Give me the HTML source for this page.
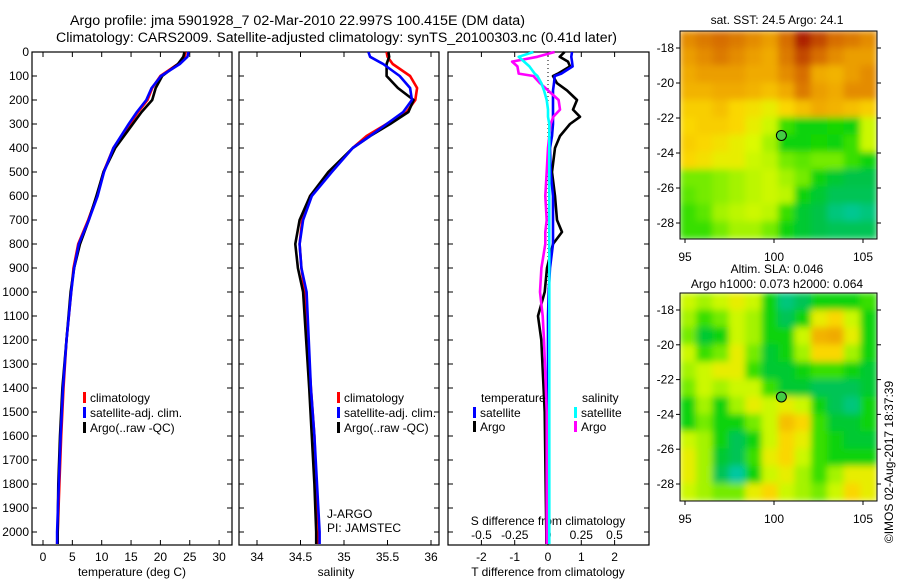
<!DOCTYPE html>
<html><head><meta charset="utf-8"><style>
body{margin:0;background:#fff;}
svg{display:block;font-family:"Liberation Sans",sans-serif;font-size:12px;}
</style></head><body>
<svg id="c" width="900" height="580" xmlns="http://www.w3.org/2000/svg">
<defs><filter id="bl" x="0" y="0" width="1" height="1"><feGaussianBlur stdDeviation="3.5" edgeMode="duplicate"/></filter>
<clipPath id="cm1"><rect x="680" y="31" width="197" height="208"/></clipPath>
<clipPath id="cm2"><rect x="680" y="293" width="197" height="208"/></clipPath></defs>
<text x="70" y="25" textLength="455" lengthAdjust="spacingAndGlyphs" style="font-size:13.5px">Argo profile: jma 5901928_7 02-Mar-2010 22.997S 100.415E (DM data)</text>
<text x="56" y="42" textLength="561" lengthAdjust="spacingAndGlyphs" style="font-size:13.5px">Climatology: CARS2009. Satellite-adjusted climatology: synTS_20100303.nc (0.41d later)</text>
<text x="777" y="24" text-anchor="middle">sat. SST: 24.5 Argo: 24.1</text>
<text x="777" y="273" text-anchor="middle">Altim. SLA: 0.046</text>
<text x="777" y="288" text-anchor="middle">Argo h1000: 0.073 h2000: 0.064</text>
<text transform="translate(893,462) rotate(-90)" text-anchor="middle">©IMOS 02-Aug-2017 18:37:39</text>
<g id="g"></g>
</svg>
<script>
const depths=[0,20,50,100,150,200,250,300,400,500,600,700,800,900,1000,1200,1400,1600,1800,2000,2050];
const tempClim=[24.3,24.1,23,20,18.6,17.8,16.2,14.8,12,10.3,9.2,7.7,6.0,5.2,4.8,4.0,3.5,3.1,2.8,2.5,2.4];
const tempSat=[24.8,24.6,23.3,20.1,18.5,17.6,16,14.6,12,10.4,9.3,7.8,6.1,5.3,4.8,4.0,3.4,3.0,2.7,2.4,2.4];
const tempArgo=[24.1,23.9,23,20.3,19.2,18.6,16.8,15.3,12.3,10.3,9.1,7.8,6.3,5.3,4.7,4.0,3.3,2.9,2.6,2.5,2.5];
const salDepths=[0,20,50,100,150,200,250,300,350,400,500,600,700,800,900,1000,1400,1600,1800,2000,2050];
const salClim=[35.49,35.5,35.56,35.76,35.84,35.82,35.72,35.49,35.26,35.1,34.84,34.61,34.52,34.49,34.51,34.55,34.62,34.66,34.68,34.71,34.71];
const salSat=[35.28,35.3,35.45,35.64,35.76,35.78,35.68,35.49,35.3,35.1,34.86,34.63,34.53,34.49,34.51,34.57,34.62,34.66,34.69,34.72,34.72];
const salArgo=[35.51,35.52,35.49,35.49,35.62,35.8,35.74,35.53,35.3,35.1,34.82,34.61,34.49,34.44,34.47,34.53,34.6,34.63,34.66,34.68,34.68];
const diffDepths=[0,20,40,60,90,100,130,160,200,240,270,300,350,400,500,600,700,750,800,900,1000,1100,1200,1500,2000,2050];
const tDiffSat=[0.72,0.7,0.72,0.74,0.4,0.2,0.18,0.15,0.15,0.15,0.15,0.15,0.12,0.06,0.08,0.15,0.15,0.15,0.15,0.06,0.02,0,0,0,0,0];
const tDiffArgo=[0.5,0.35,0.6,0.66,0.3,0.15,0.27,0.57,0.87,0.75,0.96,0.66,0.36,0.21,0.12,0.21,0.27,0.42,0.15,-0.03,-0.1,-0.3,-0.2,-0.1,-0.05,-0.05];
const sDiffSat=[-0.11,-0.22,-0.18,-0.14,-0.1,-0.08,-0.05,-0.03,-0.01,0,0,0.01,0.01,0.01,0.01,0.01,0.01,0.01,0.01,0.01,0.01,0.01,0.01,0.01,0.01,0.01];
const sDiffArgo=[0.05,-0.08,-0.27,-0.23,-0.22,-0.11,-0.06,0,0.08,0.09,0.04,0.02,0.01,0,-0.01,-0.02,-0.01,-0.02,-0.02,-0.05,-0.06,-0.04,-0.03,-0.01,-0.01,-0.01];
const depthTicks=[0,100,200,300,400,500,600,700,800,900,1000,1100,1200,1300,1400,1500,1600,1700,1800,1900,2000];
const tempTicks=[0,5,10,15,20,25,30];
const salTicks=[34,34.5,35,35.5,36];
const tDiffTicks=[-2,-1,0,1,2];
const sDiffTicks=[-0.5,-0.25,0,0.25,0.5];
const lonTicks=[95,100,105];
const latTicks=[-18,-20,-22,-24,-26,-28];
const sstGrid=[
[0.75,0.78,0.8,0.78,0.75,0.72,0.8,0.9,0.85,0.8,0.78,0.75],
[0.72,0.75,0.78,0.75,0.72,0.7,0.78,0.85,0.8,0.75,0.72,0.72],
[0.7,0.72,0.72,0.72,0.7,0.7,0.75,0.8,0.7,0.68,0.72,0.75],
[0.68,0.68,0.7,0.7,0.68,0.65,0.7,0.78,0.72,0.7,0.75,0.75],
[0.62,0.62,0.65,0.6,0.58,0.55,0.6,0.65,0.7,0.68,0.65,0.62],
[0.6,0.62,0.62,0.6,0.55,0.5,0.35,0.3,0.3,0.32,0.3,0.5],
[0.62,0.6,0.58,0.55,0.52,0.45,0.3,0.3,0.32,0.3,0.35,0.5],
[0.6,0.58,0.55,0.55,0.5,0.48,0.4,0.38,0.4,0.4,0.35,0.3],
[0.4,0.4,0.42,0.45,0.48,0.5,0.45,0.4,0.3,0.25,0.22,0.22],
[0.38,0.4,0.42,0.45,0.48,0.5,0.48,0.3,0.25,0.2,0.2,0.2],
[0.35,0.38,0.45,0.48,0.5,0.48,0.35,0.25,0.22,0.15,0.12,0.15],
[0.35,0.35,0.4,0.45,0.45,0.4,0.3,0.25,0.22,0.2,0.2,0.2]];
const slaGrid=[
[0.5,0.45,0.5,0.55,0.5,0.3,0.15,0.2,0.3,0.3,0.3,0.35],
[0.45,0.35,0.4,0.5,0.45,0.3,0.2,0.3,0.55,0.6,0.5,0.3],
[0.4,0.25,0.3,0.5,0.45,0.3,0.3,0.5,0.68,0.7,0.55,0.3],
[0.5,0.35,0.4,0.55,0.4,0.25,0.3,0.45,0.6,0.6,0.45,0.3],
[0.45,0.5,0.55,0.55,0.35,0.25,0.25,0.3,0.35,0.35,0.3,0.25],
[0.4,0.5,0.45,0.5,0.5,0.35,0.25,0.25,0.2,0.2,0.2,0.25],
[0.3,0.45,0.3,0.45,0.55,0.5,0.55,0.5,0.3,0.2,0.15,0.3],
[0.3,0.4,0.3,0.3,0.4,0.5,0.65,0.6,0.35,0.25,0.25,0.3],
[0.5,0.45,0.3,0.2,0.3,0.5,0.6,0.55,0.35,0.3,0.25,0.25],
[0.55,0.45,0.25,0.2,0.35,0.55,0.6,0.5,0.35,0.3,0.3,0.3],
[0.55,0.45,0.2,0.1,0.3,0.5,0.55,0.45,0.35,0.45,0.55,0.55],
[0.5,0.45,0.4,0.4,0.55,0.6,0.5,0.45,0.4,0.5,0.6,0.55]];
const argoLon=100.415, argoLat=-22.997;

const NS="http://www.w3.org/2000/svg";
const G=document.getElementById('g');
function el(t,a,p){const e=document.createElementNS(NS,t);for(const k in a)e.setAttribute(k,a[k]);(p||G).appendChild(e);return e;}
function txt(x,y,s,anc,p){const e=el('text',{x:x,y:y,'text-anchor':anc||'start'},p);e.textContent=s;return e;}
const yD=d=>52+d*0.24;
const xT=t=>43+t*5.87;
const xS=s=>257+(s-34)*87;
const xTd=t=>548+t*33.3;
const xSd=s=>548+s*133;
const xLon=l=>685+(l-95)*17.8;
const yLat1=l=>48+(-18-l)*17.5;
const yLat2=l=>310+(-18-l)*17.4;

const panels=[[32,232],[239,439],[448,649]];
panels.forEach((p,i)=>{
  const r=el('rect',{x:p[0],y:52,width:p[1]-p[0],height:493,fill:'none',stroke:'#000','stroke-width':1.2});
  
  
  depthTicks.forEach(d=>{
    el('line',{x1:p[0],x2:p[0]+5,y1:yD(d),y2:yD(d),stroke:'#000'});
    el('line',{x1:p[1],x2:p[1]-5,y1:yD(d),y2:yD(d),stroke:'#000'});
  });
});
depthTicks.forEach(d=>{const t=txt(29,yD(d)+4,String(d),'end');
  
  });
tempTicks.forEach(v=>{const x=xT(v);el('line',{x1:x,x2:x,y1:545,y2:540,stroke:'#000'});el('line',{x1:x,x2:x,y1:52,y2:57,stroke:'#000'});
  const t=txt(x,561,String(v),'middle');});
salTicks.forEach(v=>{const x=xS(v);el('line',{x1:x,x2:x,y1:545,y2:540,stroke:'#000'});el('line',{x1:x,x2:x,y1:52,y2:57,stroke:'#000'});
  const t=txt(x,561,String(v),'middle');});
tDiffTicks.forEach(v=>{const x=xTd(v);el('line',{x1:x,x2:x,y1:545,y2:540,stroke:'#000'});el('line',{x1:x,x2:x,y1:52,y2:57,stroke:'#000'});
  const t=txt(x,561,String(v),'middle');});
sDiffTicks.forEach(v=>{const t=txt(xSd(v),539,String(v),'middle');});
let a=txt(132,576,'temperature (deg C)','middle');
a=txt(336,576,'salinity','middle');
a=txt(548,576,'T difference from climatology','middle');
a=txt(548,525,'S difference from climatology','middle');
el('line',{x1:548,x2:548,y1:52,y2:300,stroke:'#000','stroke-dasharray':'1,3'});

function line(xs,ys,fx,fy,col,name){
  const pts=xs.map((v,i)=>fx(v).toFixed(1)+','+fy(ys[i]).toFixed(1)).join(' ');
  const e=el('polyline',{points:pts,fill:'none',stroke:col,'stroke-width':2.6,'stroke-linejoin':'round'});
  
  
}
line(tempClim,depths,xT,yD,'#f00','temperature-climatology-line');
line(tempArgo,depths,xT,yD,'#000','temperature-argo-line');
line(tempSat,depths,xT,yD,'#00f','temperature-satellite-line');
line(salClim,salDepths,xS,yD,'#f00','salinity-climatology-line');
line(salArgo,salDepths,xS,yD,'#000','salinity-argo-line');
line(salSat,salDepths,xS,yD,'#00f','salinity-satellite-line');
line(tDiffArgo,diffDepths,xTd,yD,'#000','t-diff-argo-line');
line(tDiffSat,diffDepths,xTd,yD,'#00f','t-diff-satellite-line');
line(sDiffArgo,diffDepths,xSd,yD,'#f0f','s-diff-argo-line');
line(sDiffSat,diffDepths,xSd,yD,'#0ff','s-diff-satellite-line');

function leg(x,y,col,s,name){
  el('rect',{x:x,y:y-10,width:3,height:11,fill:col});
  const t=txt(x+7,y,s);
  
  
}
leg(83,402,'#f00','climatology','legend-climatology');
leg(83,417,'#00f','satellite-adj. clim.','legend-satellite-adj');
leg(83,432,'#000','Argo(..raw -QC)','legend-argo');
leg(337,402,'#f00','climatology','legend-climatology-sal');
leg(337,417,'#00f','satellite-adj. clim.','legend-satellite-adj-sal');
leg(337,432,'#000','Argo(..raw -QC)','legend-argo-sal');
a=txt(481,402,'temperature');
a=txt(582,402,'salinity');
leg(473,417,'#00f','satellite','legend-t-satellite');
leg(473,431,'#000','Argo','legend-t-argo');
leg(574,417,'#0ff','satellite','legend-s-satellite');
leg(574,431,'#f0f','Argo','legend-s-argo');
a=txt(327,518,'J-ARGO');
a=txt(327,532,'PI: JAMSTEC');

const stops=[[0.1,[0,200,160]],[0.22,[0,195,70]],[0.32,[20,215,0]],[0.42,[140,240,0]],[0.52,[220,250,0]],[0.6,[250,215,0]],[0.7,[240,170,0]],[0.8,[215,110,0]],[0.92,[165,20,0]]];
function cmap(v){
  if(v<=stops[0][0])return 'rgb('+stops[0][1]+')';
  for(let i=1;i<stops.length;i++){if(v<=stops[i][0]){const a=stops[i-1],b=stops[i],f=(v-a[0])/(b[0]-a[0]);
    return 'rgb('+a[1].map((c,k)=>Math.round(c+(b[1][k]-c)*f)).join(',')+')';}}
  return 'rgb('+stops[stops.length-1][1]+')';
}
function map(grid,top,yLat,clip,name){
  const g=el('g',{'clip-path':'url(#'+clip+')'});
  const gi=el('g',{filter:'url(#bl)'},g);
  
  
  const nr=grid.length,nc=grid[0].length,cw=197/nc,ch=208/nr;
  grid.forEach((row,r)=>row.forEach((v,c)=>{
    el('rect',{x:680+c*cw-0.5,y:top+r*ch-0.5,width:cw+1,height:ch+1,fill:cmap(v)},gi);
  }));
  el('rect',{x:680,y:top,width:197,height:208,fill:'none',stroke:'#000'});
  lonTicks.forEach(l=>{const x=xLon(l);el('line',{x1:x,x2:x,y1:top+208,y2:top+212,stroke:'#000'});
    const t=txt(x,top+230,String(l),'middle');});
  latTicks.forEach(l=>{const y=yLat(l);el('line',{x1:676,x2:680,y1:y,y2:y,stroke:'#000'});el('line',{x1:877,x2:881,y1:y,y2:y,stroke:'#000'});
    const t=txt(674,y+4,String(l),'end');});
  const m=el('ellipse',{cx:xLon(argoLon),cy:yLat(argoLat),rx:5,ry:5,fill:'#4c4',stroke:'#000'});
  
  
}
map(sstGrid,31,yLat1,'cm1','sst-heatmap');
map(slaGrid,293,yLat2,'cm2','sla-heatmap');
</script>
</body></html>
